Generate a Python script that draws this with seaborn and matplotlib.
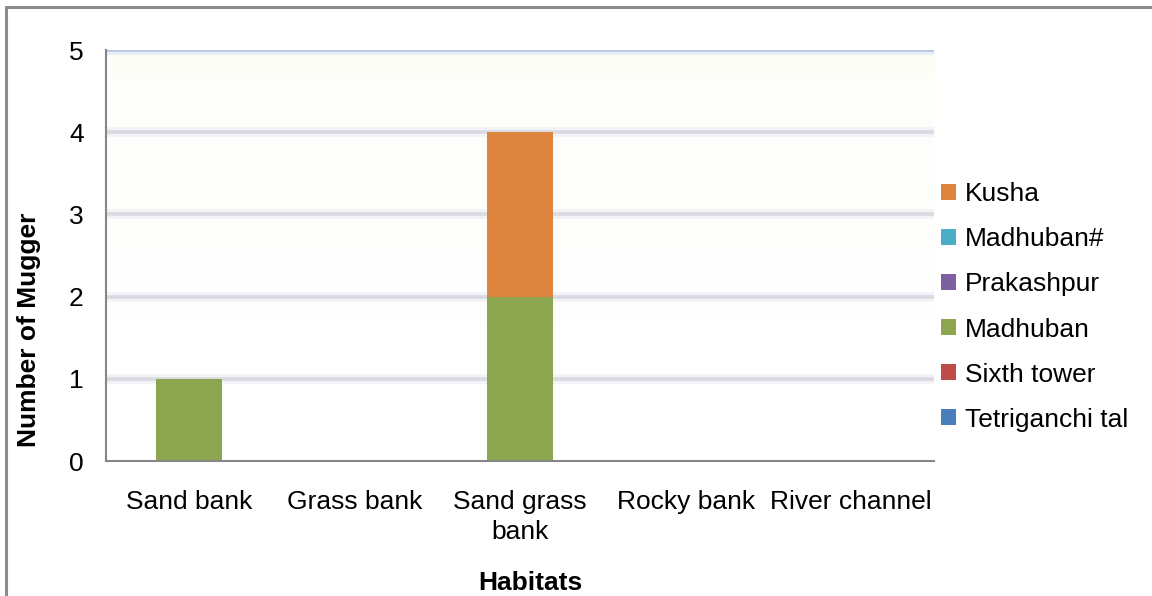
import numpy as np
import pandas as pd
import seaborn as sns
import matplotlib.pyplot as plt
from matplotlib.patches import Patch
from matplotlib.lines import Line2D

sns.set_theme(style="white")
plt.rcParams['font.family'] = ['Liberation Sans', 'DejaVu Sans']
plt.rcParams['text.color'] = 'black'
plt.rcParams['axes.labelcolor'] = 'black'
plt.rcParams['xtick.color'] = 'black'
plt.rcParams['ytick.color'] = 'black'

habitats = ['Sand bank', 'Grass bank', 'Sand grass\nbank', 'Rocky bank', 'River channel']

# series from bottom of the stack to the top
series = ['Tetriganchi tal', 'Sixth tower', 'Madhuban', 'Prakashpur', 'Madhuban#', 'Kusha']
tetriganchi = [0, 0, 0, 0, 0]
sixth_tower = [0, 0, 0, 0, 0]
madhuban = [1, 0, 2, 0, 0]
prakashpur = [0, 0, 0, 0, 0]
madhuban_h = [0, 0, 0, 0, 0]
kusha = [0, 0, 2, 0, 0]
colors = ['#4A7EBB', '#BE4B48', '#8BA64F', '#7D60A0', '#4AACC5', '#DD843F']

values = [tetriganchi, sixth_tower, madhuban, prakashpur, madhuban_h, kusha]

fig = plt.figure(figsize=(11.52, 5.96), dpi=100)
ax = fig.add_axes([0.092, 0.2265, 0.7188, 0.6896])

# faint background like the excel plot area
grad = np.linspace(0, 1, 256).reshape(-1, 1)
ax.imshow(grad, extent=(-0.5, 4.5, 0, 5), aspect='auto', origin='lower',
          cmap=sns.blend_palette(['#ffffff', '#ffffff', '#fefefd', '#fdfdf8'], as_cmap=True),
          zorder=0)

# gridlines with a soft shadow
for v in [1, 2, 3, 4]:
    ax.axhline(v, color='#f3f3f7', lw=7, zorder=1)
    ax.axhline(v, color='#d9d9e2', lw=2.6, zorder=1)
ax.axhline(5, color='#e8eef7', lw=7, zorder=1)
ax.axhline(5, color='#b6c6e3', lw=2.6, zorder=1)

# stacked bars: draw cumulative totals from top to bottom
cum = np.cumsum(np.array(values), axis=0)
for i in range(len(series) - 1, -1, -1):
    df = pd.DataFrame({'habitat': habitats, 'value': cum[i]})
    sns.barplot(data=df, x='habitat', y='value', color=colors[i], saturation=1,
                width=0.4, linewidth=0, ax=ax, zorder=3)

ax.set_xlim(-0.5, 4.5)
ax.set_ylim(0, 5)
ax.set_yticks([0, 1, 2, 3, 4, 5])
ax.set_xticks(range(5))
ax.set_xticklabels(habitats, fontsize=19, linespacing=1.3)
ax.set_xticks(np.arange(-0.5, 5, 1), minor=True)
ax.tick_params(axis='x', which='major', length=0, pad=21)
ax.tick_params(axis='x', which='minor', length=6, width=1.3, color='#868686', direction='out')
ax.tick_params(axis='y', length=6, width=1.3, color='#868686', direction='out', labelsize=19, pad=10)
ax.grid(False)

for s in ['top', 'right']:
    ax.spines[s].set_visible(False)
for s in ['left', 'bottom']:
    ax.spines[s].set_color('#868686')
    ax.spines[s].set_linewidth(1.5)
    ax.spines[s].set_zorder(4)

ax.set_xlabel('Habitats', fontsize=19, fontweight='bold', va='center')
ax.set_ylabel('Number of Mugger', fontsize=19, fontweight='bold', va='center')
ax.xaxis.set_label_coords(0.513, -0.297)
ax.yaxis.set_label_coords(-0.093, 0.319)

handles = [Patch(facecolor=colors[i], edgecolor='none') for i in range(len(series) - 1, -1, -1)]
labels = series[::-1]
fig.legend(handles, labels, loc='upper left', bbox_to_anchor=(0.808, 0.712),
           frameon=False, fontsize=19, handlelength=0.55, handleheight=0.55,
           handletextpad=0.35, labelspacing=0.8, borderaxespad=0)

# outer chart border (top and left visible)
fig.add_artist(Line2D([6 / 1152, 1], [1 - 7 / 596, 1 - 7 / 596], color='#8c8c8c', lw=2.2))
fig.add_artist(Line2D([6 / 1152, 6 / 1152], [0, 1 - 7 / 596], color='#8c8c8c', lw=2.2))

fig.savefig('out.png', dpi=100)
